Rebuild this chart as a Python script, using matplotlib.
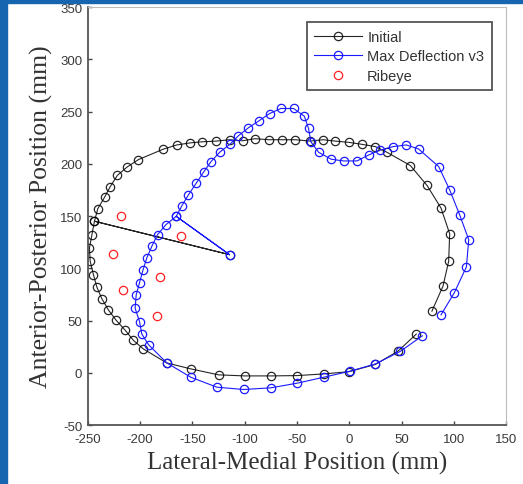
import matplotlib
matplotlib.use("Agg")
import matplotlib.pyplot as plt
from matplotlib.patches import Rectangle

plt.rcParams['axes.unicode_minus'] = False

# Initial contour (center point visited in the middle of the path)
init_x = [64, 46.6, 25, -0.6, -24.6, -50, -75, -100, -125, -151.5, -174.5, -196.8, -206.4,
          -214.4, -223, -230.3, -236.7, -241.4, -244.7, -247.8, -248.5, -246.2, -243.7,
          -114.5, -243.7,
          -240.5, -234, -228.7, -221.7, -212.7, -201.6, -178.3, -165, -152, -141, -127,
          -114.5, -102, -90, -77, -64.4, -51.7, -37.3, -25, -13.4, -0.6, 12, 25, 36, 58.4,
          74.3, 87.7, 96, 95, 89.6, 79]
init_y = [37, 20.7, 8, 1.0, -1.1, -2.7, -3, -3, -2, 3.7, 9.4, 22.7, 31,
          40.8, 50.3, 60, 71, 82, 94, 106.8, 119.5, 131.6, 145,
          113, 145,
          157, 168, 178, 189, 196.7, 204, 213.8, 218, 220, 221, 221.7,
          223, 222, 224, 223, 223, 223, 221.7, 223, 221.7, 220.5, 218.6, 216.4, 211, 198.3,
          179.3, 157.6, 133, 106.6, 82.9, 59]

# Max deflection contour
max_x = [69.9, 48.8, 24.9, 0.3, -24.6, -50, -75, -101, -126.6, -151.5, -174.5, -192, -198.4,
         -200.6, -204.8, -203.8, -200.6, -197.4, -193.6, -188.8, -183.4, -175.4, -165.5,
         -114.5, -165.5,
         -160, -153.8, -146.4, -139.4, -132.3, -124, -113.9, -106, -96.4, -86.8, -76.3,
         -65.4, -53.3, -43, -39, -36.7, -29.4, -17.2, -5.4, 7.4, 18.5, 29.7, 41.8, 54.5,
         66.3, 85.5, 96, 105.5, 114.2, 112, 100.5, 87.7]
max_y = [35.4, 20.5, 8.4, 1.4, -4.3, -10, -14.4, -16, -13.8, -4.3, 9.4, 26.9, 37,
         49, 61.7, 74.5, 86.2, 97.9, 110, 121.1, 132.2, 141.7, 149.7,
         113, 149.7,
         160, 170.3, 181.4, 191.9, 202, 211, 218.9, 226.8, 234.5, 240.8, 248,
         252.9, 252.9, 245.5, 233.8, 221, 211, 204.3, 202.7, 202.7, 208.4, 213, 216.4, 218,
         214.1, 197.3, 175, 151.2, 127.4, 101.4, 76.7, 55.4]

# Ribeye points
rib_x = [-218.2, -160.8, -226.2, -180.9, -216, -184]
rib_y = [149.7, 130.7, 114.1, 91.9, 78.9, 54.5]

xticks = [-250, -200, -150, -100, -50, 0, 50, 100, 150]
yticks = [-50, 0, 50, 100, 150, 200, 250, 300, 350]

fig = plt.figure(figsize=(5.23, 4.85), dpi=100)
fig.patch.set_facecolor("white")
blue = "#1565b0"
fig.add_artist(Rectangle((0, 0.992), 1, 0.01, transform=fig.transFigure, color=blue, zorder=10))
fig.add_artist(Rectangle((0, 0), 0.0135, 1, transform=fig.transFigure, color=blue, zorder=10))

ax = fig.add_axes([0.168, 0.1216, 0.7998, 0.8619])
ax.plot(init_x, init_y, '-o', color='black', lw=0.8, ms=6, mfc='none', mew=0.9,
        alpha=0.85, label='Initial')
ax.plot(max_x, max_y, '-o', color='#1a1aff', lw=0.8, ms=6, mfc='none', mew=0.9,
        label='Max Deflection v3')
ax.plot(rib_x, rib_y, 'o', color='#ff2020', ms=6, mfc='none', mew=0.9, label='Ribeye')

ax.set_xlim(-250, 150)
ax.set_ylim(-50, 350)
ax.set_xticks(xticks)
ax.set_yticks(yticks)
ax.tick_params(direction='in', length=3, width=1, colors='#444444', labelsize=9.5,
               labelcolor='#3a3a3a')
for lab in ax.get_xticklabels() + ax.get_yticklabels():
    lab.set_family('Liberation Sans')
ax.tick_params(axis='x', pad=6)
ax.tick_params(axis='y', pad=4)
for s in ['left', 'bottom']:
    ax.spines[s].set_color('#555555')
    ax.spines[s].set_linewidth(1.3)
for s in ['top', 'right']:
    ax.spines[s].set_color('#bbbbbb')
    ax.spines[s].set_linewidth(0.8)

ax.set_xlabel('Lateral-Medial Position (mm)', family='Liberation Serif', fontsize=18,
              color='#333333', labelpad=4)
ax.set_ylabel('Anterior-Posterior Position (mm)', family='Liberation Serif', fontsize=18.5,
              color='#333333', labelpad=5)

leg = ax.legend(loc='upper right', bbox_to_anchor=(0.965, 0.963),
                prop={'family': 'Liberation Sans', 'size': 10.5},
                fancybox=False, framealpha=1, edgecolor='#555555', handlelength=3.3,
                borderpad=0.5, labelspacing=0.38, handletextpad=0.35, borderaxespad=0)
leg.get_frame().set_linewidth(1.3)
for t in leg.get_texts():
    t.set_color('#333333')

fig.savefig('out.png', dpi=100)
